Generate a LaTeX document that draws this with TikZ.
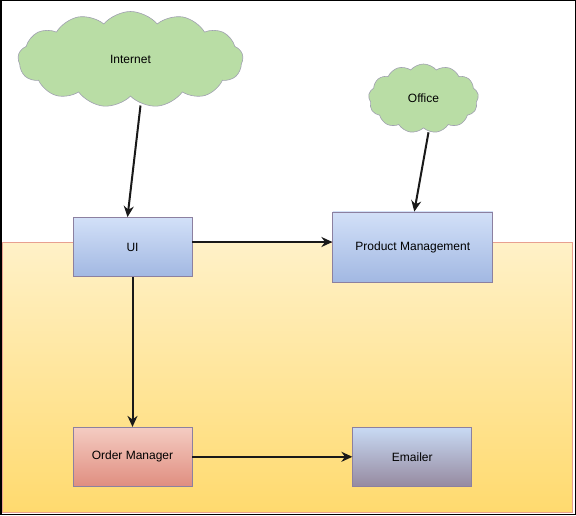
\documentclass[tikz,border=0pt]{standalone}
\usepackage{fontspec}
\setmainfont{Liberation Sans}
\usetikzlibrary{shapes.symbols, arrows.meta, positioning}
\definecolor{boxline}{HTML}{8C80A0}
\definecolor{cloudgreen}{HTML}{B9DDA5}
\definecolor{cloudline}{HTML}{A0A0B0}
\definecolor{uitop}{HTML}{D2E0F8}
\definecolor{uibottom}{HTML}{A2B8E2}
\definecolor{ordertop}{HTML}{F4CCC2}
\definecolor{orderbottom}{HTML}{E08E80}
\definecolor{mailtop}{HTML}{C8DAF4}
\definecolor{mailmid}{HTML}{C6A2AC}
\definecolor{mailbottom}{HTML}{968AA0}
\definecolor{zonetop}{HTML}{FFF1C8}
\definecolor{zonebottom}{HTML}{FFDA6E}
\definecolor{zoneline}{HTML}{E8A090}

\begin{document}
\begin{tikzpicture}[
  x=1pt, y=1pt,
  font=\fontsize{12}{14}\selectfont,
  box/.style={draw=boxline, line width=0.8pt, minimum width=119pt,
              minimum height=59pt, text centered, inner sep=0pt},
  service/.style={box, top color=uitop, bottom color=uibottom},
  order/.style={box, top color=ordertop, bottom color=orderbottom},
  mailer/.style={box, top color=mailtop, middle color=mailmid, bottom color=mailbottom},
  net/.style={cloud, cloud puffs=13, cloud puff arc=100, cloud ignores aspect,
              fill=cloudgreen, draw=cloudline, line width=0.6pt, inner sep=0pt},
  arrow/.style={-{Stealth[length=11pt, width=10pt]}, line width=2pt, color=black!90}
]
\useasboundingbox (0,0) rectangle (576,515);

% Backend zone
\shade[top color=zonetop, bottom color=zonebottom, draw=zoneline, line width=0.8pt]
  (2.5,2.3) rectangle (572.8,272.7);

% Clouds
\node[net, minimum width=225pt, minimum height=96pt] (internet) at (130.5,455.5) {Internet};
\node[net, minimum width=110pt, minimum height=69pt] (office) at (423.5,416.5) {Office};

% Services
\node[service] (ui) at (132.5,268) {UI};
\node[service, minimum width=160pt, minimum height=70pt, right=140pt of ui] (pm) {Product Management};
\node[order, below=150pt of ui] (om) {Order Manager};
\node[mailer, right=160pt of om] (mail) {Emailer};

% Arrows
\draw[arrow] ([xshift=10pt, yshift=-9pt]internet.south) -- ([xshift=-5pt]ui.north);
\draw[arrow] ([xshift=5pt, yshift=-4pt]office.south) -- ([xshift=1.5pt]pm.north);
\draw[arrow] ([yshift=5pt]ui.east) -- ([yshift=5pt]ui.east -| pm.west);
\draw[arrow] (ui) -- (om);
\draw[arrow] (om) -- (mail);

% Frame
\draw[line width=1.5pt] (0.75,0.75) rectangle (575.25,514.25);

\end{tikzpicture}
\end{document}
